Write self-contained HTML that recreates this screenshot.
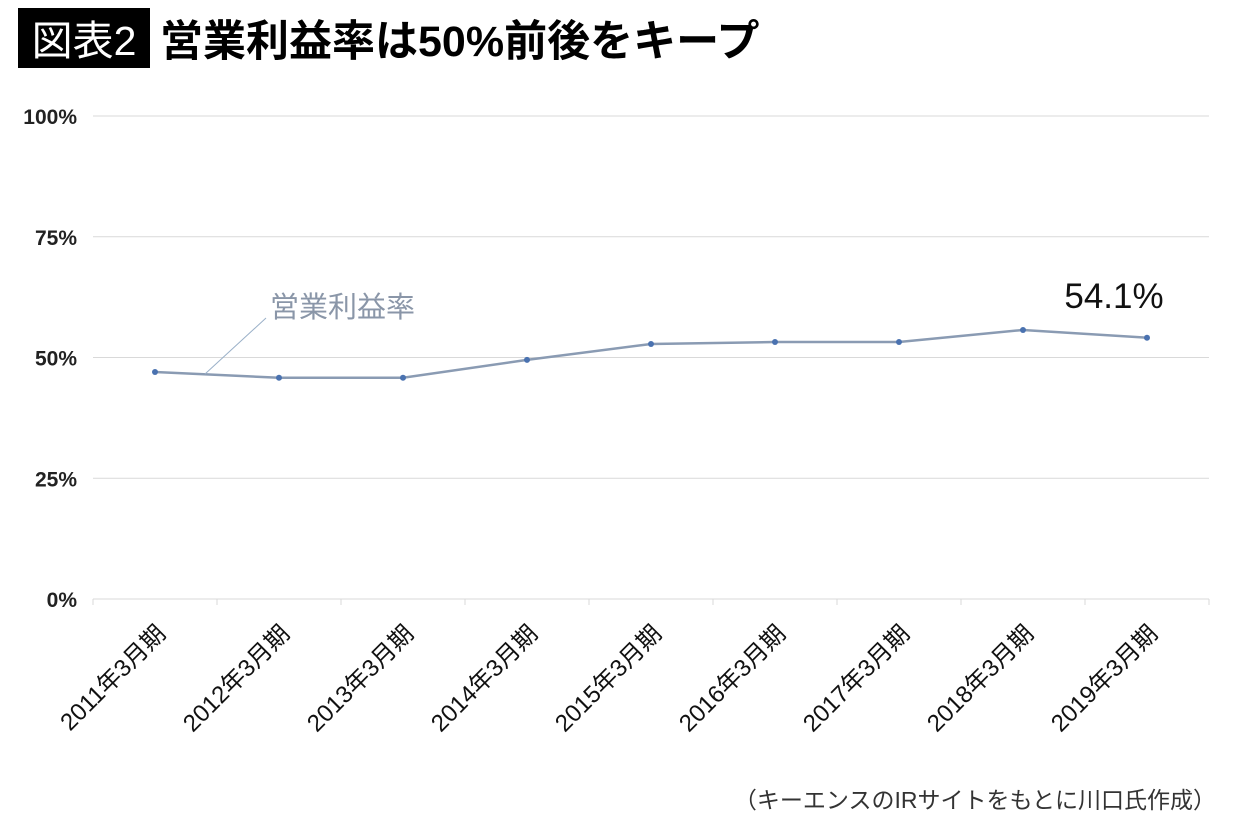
<!DOCTYPE html>
<html><head><meta charset="utf-8"><style>
body{margin:0;background:#fff;width:1236px;height:832px;overflow:hidden;font-family:"Liberation Sans","Noto Sans CJK JP",sans-serif}
</style></head><body>
<svg width="1236" height="832" xmlns="http://www.w3.org/2000/svg" style="font-family:'Liberation Sans','Noto Sans CJK JP',sans-serif">
<rect x="18" y="8" width="132" height="60" fill="#000"/>
<text x="84" y="55" font-size="41" fill="#fff" text-anchor="middle">図表2</text>
<text x="160" y="56" font-size="43" font-weight="bold" fill="#000">営業利益率は50%前後をキープ</text>
<g id="grid"></g><g id="yl"></g><g id="xl"></g><g id="ser"></g>
<line x1="205" y1="374" x2="266" y2="318" stroke="#9ab0c8" stroke-width="1"/>
<text x="270" y="317" font-size="29" fill="#8a96a8">営業利益率</text>
<text x="1114" y="308" font-size="35" fill="#111" text-anchor="middle">54.1%</text>
<text x="1216" y="808" font-size="23" fill="#333" text-anchor="end">（キーエンスのIRサイトをもとに川口氏作成）</text>
</svg>
<script>
const categories=["2011年3月期","2012年3月期","2013年3月期","2014年3月期","2015年3月期","2016年3月期","2017年3月期","2018年3月期","2019年3月期"];
const values=[47.0,45.8,45.8,49.5,52.8,53.2,53.2,55.7,54.1];
const yTicks=[0,25,50,75,100];
const yTickLabels=["0%","25%","50%","75%","100%"];
const NS="http://www.w3.org/2000/svg";
const X0=93,X1=1209,Y0=599,Y1=116;
const bw=(X1-X0)/categories.length;
const x=i=>X0+bw*(i+0.5);
const y=v=>Y0-(v/100)*(Y0-Y1);
function mk(t,a,p){const e=document.createElementNS(NS,t);for(const k in a)e.setAttribute(k,a[k]);p.appendChild(e);return e;}
const g=document.getElementById('grid'),yl=document.getElementById('yl'),xl=document.getElementById('xl'),s=document.getElementById('ser');
yTicks.forEach((t,i)=>{
 const l=mk('line',{x1:X0,x2:X1,y1:y(t),y2:y(t),stroke:'#d9d9d9','stroke-width':1},g);
 
 
 const tx=mk('text',{x:77,y:y(t)+8,'font-size':21,'font-weight':'bold','text-anchor':'end',fill:'#222'},yl);
 tx.textContent=yTickLabels[i];
 
 
});
for(let i=0;i<=categories.length;i++){
 const tk=mk('line',{x1:X0+bw*i,x2:X0+bw*i,y1:Y0,y2:Y0+6,stroke:'#d9d9d9'},g);
 
 
}
categories.forEach((c,i)=>{
 const tx=mk('text',{x:0,y:0,'font-size':24,'text-anchor':'end',fill:'#111',transform:`translate(${x(i)+12},${Y0+36}) rotate(-45)`},xl);
 tx.textContent=c;
 
 
});
const pl=mk('polyline',{points:values.map((v,i)=>x(i)+','+y(v)).join(' '),fill:'none',stroke:'#8a9bb3','stroke-width':2.5},s);


values.forEach((v,i)=>{
 const c=mk('circle',{cx:x(i),cy:y(v),r:3,fill:'#4a72b0'},s);
 
 
});
</script>
</body></html>
